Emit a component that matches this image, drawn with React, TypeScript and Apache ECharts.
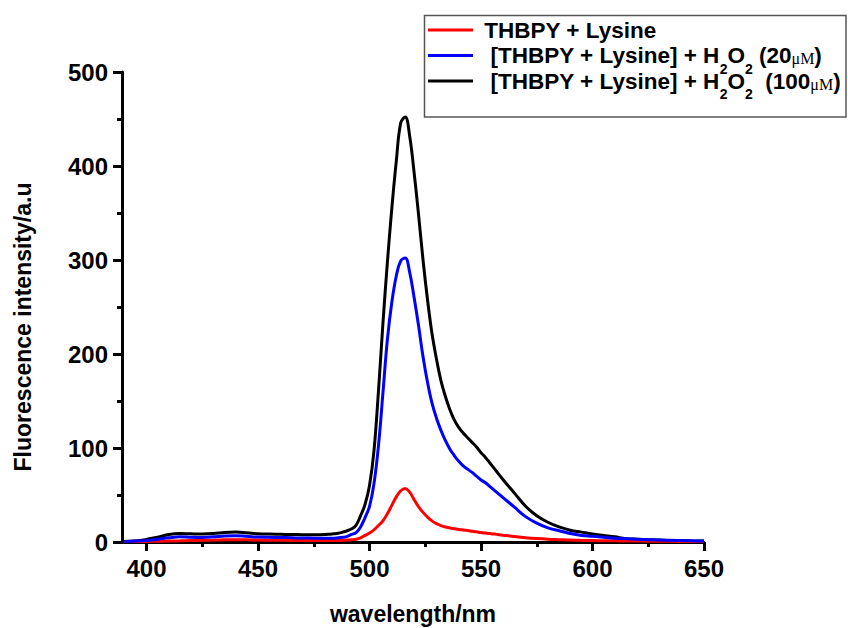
import React, { useEffect, useRef } from "react";
import * as echarts from "echarts";

// ---- data ----
const wavelength = [
  390, 395, 400, 405, 410, 415, 420, 425, 430, 435, 440, 445, 450, 455, 460, 465, 470, 475, 480,
  482, 484, 486, 488, 490, 492, 494, 496, 498, 500, 502, 504, 506, 508, 510, 512, 514, 516, 518, 520,
  522, 524, 526, 528, 530, 532, 534, 536, 538, 540, 542, 544, 546, 548, 550, 552, 554, 556, 558, 560,
  565, 570, 575, 580, 585, 590, 595, 600, 605, 610, 615, 620, 625, 630, 635, 640, 645, 650,
];
const redVal = [
  0.3, 0.5, 0.6, 0.8, 1, 1.2, 1.5, 1.8, 2, 2.3, 2.5, 2.3, 2, 1.9, 1.8, 1.7, 1.5, 1.5, 1.5,
  1.5, 1.5, 1.6, 1.8, 2, 2.4, 3, 4.5, 7, 9.5, 13, 17.5, 22.5, 30, 39, 48, 54.5, 57, 53, 45,
  37.5, 31.5, 26.5, 22.5, 19.5, 17.5, 16, 15, 14, 13.3, 12.8, 12.2, 11.5, 10.8, 10, 9.5, 9, 8.4, 7.8, 7.2,
  5.8, 4.6, 3.7, 3, 2.5, 2, 1.7, 1.5, 1.3, 1.2, 1.1, 1, 0.9, 0.8, 0.7, 0.6, 0.55, 0.5,
];
const blueVal = [
  0.5, 1, 1.5, 3, 4.5, 5.5, 5, 4.8, 5.5, 6.5, 6.7, 6, 5.2, 5, 4.8, 4.5, 4.2, 4.1, 4,
  4, 4.1, 4.4, 5, 6, 8, 10, 16, 26, 38, 62, 102, 158, 215, 255, 283, 299, 302, 287, 260,
  230, 197, 170, 148, 132, 119, 108, 99, 92, 86, 81, 77.5, 74, 70, 66, 63, 59, 55, 51, 47,
  37, 27, 20, 15, 12, 9, 7, 6, 5, 4, 3.5, 3, 2.5, 2, 1.8, 1.5, 1.2, 1,
];
const blackVal = [
  0.5, 1, 2.8, 5, 8, 9, 8.7, 8.5, 9, 10.2, 10.6, 9.8, 8.8, 8.4, 8.2, 8, 7.8, 7.8, 8,
  8.3, 8.7, 9.3, 10.5, 12, 14, 18, 28, 40, 60, 97, 160, 232, 297, 355, 405, 446, 452, 432, 393,
  348, 300, 258, 222, 195, 172, 155, 141, 130, 122, 116, 111, 106, 101, 95, 90, 84, 78, 72, 66,
  52, 38, 28, 21, 16, 12.5, 10.5, 8.5, 7, 5.5, 3.5, 3, 2.5, 2, 1.5, 1.5, 1, 1,
];

const seriesNames = [
  "THBPY + Lysine",
  "[THBPY + Lysine] + H2O2 (20\u03bcM)",
  "[THBPY + Lysine] + H2O2 (100\u03bcM)",
];
const xMajorTicks = [400, 450, 500, 550, 600, 650];
const xMinorTicks = [425, 475, 525, 575, 625];

const FONT = "'Liberation Sans', Arial, Helvetica, sans-serif";

function pairs(xs: number[], ys: number[]) {
  return xs.map((x, i) => [x, ys[i]]);
}

export default function App() {
  const ref = useRef<HTMLDivElement>(null);
  useEffect(() => {
    if (!ref.current) return;
    const chart = echarts.init(ref.current, null, { renderer: "svg" });
    const legendLabels: Record<string, string> = {
      [seriesNames[0]]: "{t| THBPY + Lysine}{z| }",
      [seriesNames[1]]: "{t|  [THBPY + Lysine] + H}{s|2}{t|O}{s|2}{t| (20}{m|\u03bcM}{t|)}",
      [seriesNames[2]]: "{t|  [THBPY + Lysine] + H}{s|2}{t|O}{s|2}{t|  (100}{m|\u03bcM}{t|)}",
    };
    const lineSeries = (name: string, data: number[][], color: string) => ({
      name,
      type: "line",
      data,
      showSymbol: false,
      symbol: "none",
      smooth: 0.4,
      color,
      lineStyle: { color, width: 3 },
    });
    chart.setOption({
      animation: false,
      backgroundColor: "#fff",
      grid: { left: 122, right: 144, top: 72, bottom: 86, outerBoundsMode: "none" },
      graphic: [
        {
          type: "rect",
          shape: { x: 424.5, y: 15.5, width: 421.5, height: 101.5 },
          style: { fill: "none", stroke: "#555", lineWidth: 1.5 },
          silent: true,
        },
      ],
      legend: {
        orient: "vertical",
        left: 428,
        top: 10,
        padding: 0,
        itemGap: -14.5,
        itemWidth: 45,
        itemHeight: 3,
        icon: "rect",
        data: seriesNames,
        formatter: (name: string) => legendLabels[name],
        textStyle: {
          color: "#000",
          rich: {
            t: { fontFamily: FONT, fontWeight: "bold", fontSize: 22.5, lineHeight: 22, verticalAlign: "middle", color: "#000" },
            s: { fontFamily: FONT, fontWeight: "bold", fontSize: 14, lineHeight: 14, padding: [26, 0, 0, 0], verticalAlign: "middle", color: "#000" },
            z: { fontFamily: FONT, fontSize: 14, lineHeight: 14, padding: [26, 0, 0, 0], verticalAlign: "middle", color: "#000" },
            m: { fontFamily: "'Liberation Serif', 'Times New Roman', serif", fontSize: 16, lineHeight: 16, padding: [6, 0, 0, 0], verticalAlign: "middle", color: "#000" },
          },
        },
      },
      xAxis: [
        {
          type: "value",
          min: 389,
          max: 650,
          name: "wavelength/nm",
          nameLocation: "middle",
          nameGap: 61,
          nameTextStyle: { fontFamily: FONT, fontWeight: "bold", fontSize: 23, lineHeight: 22, color: "#000" },
          axisLine: { show: true, onZero: false, lineStyle: { color: "#000", width: 3 } },
          axisTick: { show: true, customValues: xMajorTicks, length: 9, lineStyle: { color: "#000", width: 3 } },
          axisLabel: { customValues: xMajorTicks, fontFamily: FONT, fontWeight: "bold", fontSize: 24, color: "#000", margin: 14 },
          splitLine: { show: false },
        },
        {
          type: "value",
          min: 389,
          max: 650,
          position: "bottom",
          axisLine: { show: false },
          axisTick: { show: true, customValues: xMinorTicks, length: 5, lineStyle: { color: "#000", width: 3 } },
          axisLabel: { show: false },
          splitLine: { show: false },
        },
      ],
      yAxis: {
        type: "value",
        min: 0,
        max: 500,
        interval: 100,
        name: "Fluorescence intensity/a.u",
        nameLocation: "middle",
        nameRotate: 90,
        nameGap: 88,
        nameTextStyle: { fontFamily: FONT, fontWeight: "bold", fontSize: 23, color: "#000", padding: [0, 40, 0, 0] },
        axisLine: { show: true, lineStyle: { color: "#000", width: 3 } },
        axisTick: { show: true, length: 9, lineStyle: { color: "#000", width: 3 } },
        minorTick: { show: true, splitNumber: 2, length: 5, lineStyle: { color: "#000", width: 3 } },
        axisLabel: { fontFamily: FONT, fontWeight: "bold", fontSize: 24, color: "#000", margin: 14 },
        splitLine: { show: false },
        minorSplitLine: { show: false },
      },
      series: [
        lineSeries(seriesNames[2], pairs(wavelength, blackVal), "#000000"),
        lineSeries(seriesNames[0], pairs(wavelength, redVal), "#ff0000"),
        lineSeries(seriesNames[1], pairs(wavelength, blueVal), "#0000ff"),
      ],
    });
    return () => chart.dispose();
  }, []);
  return (
    <div
      ref={ref}
      style={{ position: "fixed", left: 0, top: 0, width: 848, height: 628, background: "#fff" }}
    />
  );
}
